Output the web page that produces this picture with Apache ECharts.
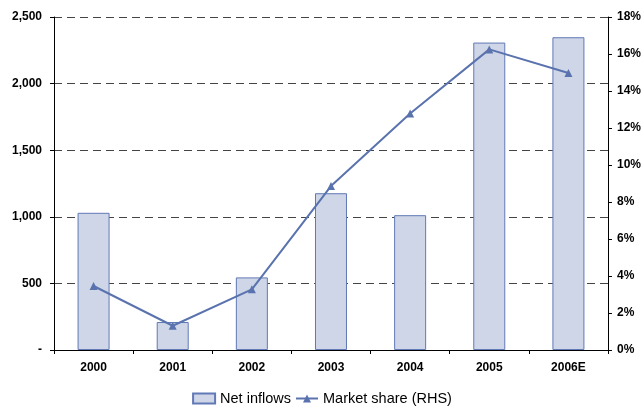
<!DOCTYPE html>
<html>
<head>
<meta charset="utf-8">
<script src="https://cdn.jsdelivr.net/npm/echarts@6/dist/echarts.min.js"></script>
<style>
  html, body { margin: 0; padding: 0; background: #fff; }
  #chart { width: 644px; height: 407px; }
</style>
</head>
<body>
<div id="chart"></div>
<script>
// Annual figures
const years = ['2000', '2001', '2002', '2003', '2004', '2005', '2006E'];
const netInflows = [1030, 210, 545, 1177, 1012, 2308, 2348];
const marketShare = [3.46, 1.31, 3.28, 8.86, 12.78, 16.25, 14.97];
const leftTicks = ['-', '500', '1,000', '1,500', '2,000', '2,500'];

const chart = echarts.init(document.getElementById('chart'));
const labelFont = { color: '#000', fontFamily: 'Liberation Sans, Arial, sans-serif', fontWeight: 'bold', fontSize: 12 };

chart.setOption({
  animation: false,
  grid: { left: 54, right: 30, top: 17, bottom: 57 },
  legend: {
    top: 391,
    left: 'center',
    itemWidth: 22,
    itemHeight: 10,
    itemGap: 4,
    padding: 0,
    textStyle: { color: '#000', fontFamily: 'Liberation Sans, Arial, sans-serif', fontSize: 14.5 },
    data: [
      { name: 'Net inflows', icon: 'rect' },
      { name: 'Market share (RHS)' }
    ]
  },
  xAxis: {
    type: 'category',
    data: years,
    axisLine: { lineStyle: { color: '#000', width: 1 } },
    axisTick: { show: true, length: 4, lineStyle: { color: '#000' } },
    axisLabel: Object.assign({ margin: 12 }, labelFont)
  },
  yAxis: [
    {
      type: 'value',
      min: 0,
      max: 2500,
      interval: 500,
      axisLine: { show: true, lineStyle: { color: '#000' } },
      axisTick: { show: true, length: 4, lineStyle: { color: '#000' } },
      splitLine: { show: true, lineStyle: { color: '#444', type: [8, 5], width: 1 } },
      axisLabel: Object.assign({
        margin: 12,
        formatter: v => leftTicks[Math.round(v / 500)]
      }, labelFont)
    },
    {
      type: 'value',
      min: 0,
      max: 18,
      interval: 2,
      position: 'right',
      axisLine: { show: true, lineStyle: { color: '#000' } },
      axisTick: { show: true, length: 4, lineStyle: { color: '#000' } },
      splitLine: { show: false },
      axisLabel: Object.assign({ margin: 9, formatter: v => v + '%' }, labelFont)
    }
  ],
  series: [
    {
      name: 'Net inflows',
      type: 'bar',
      data: netInflows,
      barWidth: 32,
      itemStyle: { color: '#ced6e7', borderColor: '#6179b5', borderWidth: 1 }
    },
    {
      name: 'Market share (RHS)',
      type: 'line',
      yAxisIndex: 1,
      data: marketShare,
      symbol: 'triangle',
      symbolSize: 8,
      lineStyle: { color: '#5a73ae', width: 2 },
      itemStyle: { color: '#5a73ae' }
    }
  ]
});
</script>
</body>
</html>
